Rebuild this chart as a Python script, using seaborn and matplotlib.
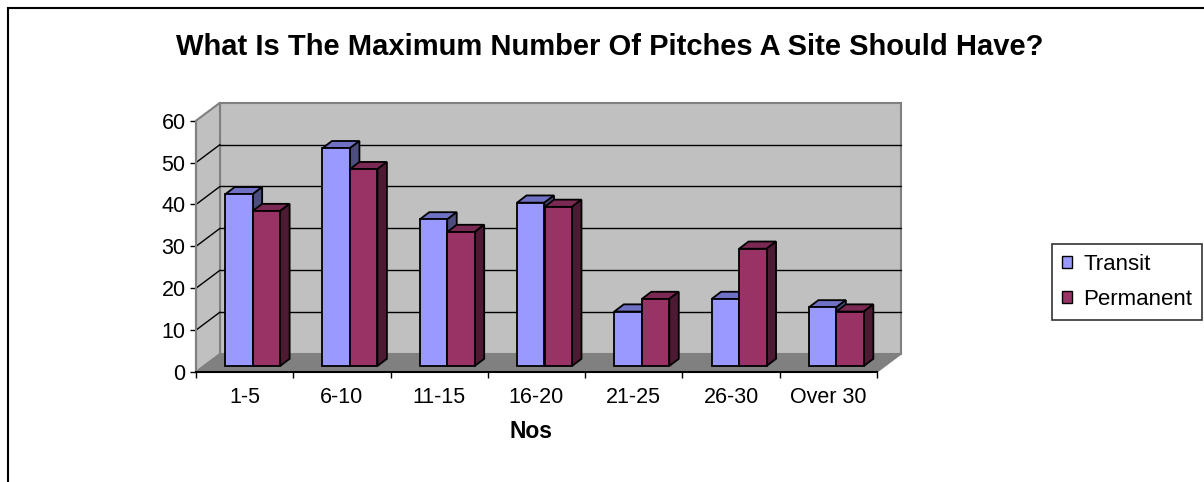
import numpy as np
import pandas as pd
import matplotlib
matplotlib.use("Agg")
import matplotlib.pyplot as plt
from matplotlib.patches import Polygon, Rectangle, Patch
import seaborn as sns

# Survey responses by site size band
categories = ["1-5", "6-10", "11-15", "16-20", "21-25", "26-30", "Over 30"]
transit = [41, 52, 35, 39, 13, 16, 14]
permanent = [37, 47, 32, 38, 16, 28, 13]
series_names = ["Transit", "Permanent"]
y_ticks = [0, 10, 20, 30, 40, 50, 60]

title = "What Is The Maximum Number Of Pitches A Site Should Have?"
x_label = "Nos"

df = pd.DataFrame({
    "Size": categories * 2,
    "Count": transit + permanent,
    "Type": [series_names[0]] * len(categories) + [series_names[1]] * len(categories),
})

sns.set_theme(style="white")
plt.rcParams["font.family"] = ["Liberation Sans", "DejaVu Sans"]
plt.rcParams.update({"text.color": "black", "xtick.color": "black",
                     "ytick.color": "black", "axes.labelcolor": "black"})

W, H = 1204, 482
fig = plt.figure(figsize=(W / 100, H / 100), dpi=100)
fig.patch.set_facecolor("white")

# Plot plane (front of the 3D box), in pixels
left_px, right_px, base_px, top_px = 196, 877, 372, 120.7
ax = fig.add_axes([left_px / W, (H - base_px) / H,
                   (right_px - left_px) / W, (base_px - top_px) / H])
ncat = len(categories)
ax.set_xlim(-0.5, ncat - 0.5)
ax.set_ylim(0, 60)
ax.set_facecolor("none")

sx = (right_px - left_px) / ncat      # px per category
sy = (base_px - top_px) / 60          # px per unit
DX, DY = 24 / sx, 18 / sy             # full depth of the box, data units
BX, BY = DX / 3, DY / 3               # bar plane offset
BDX, BDY = 9.5 / sx, 7.2 / sy         # bar depth

x0, x1 = -0.5, ncat - 0.5
wall = "#C0C0C0"
edge_gray = "#808080"

# Back wall, side wall and floor
ax.add_patch(Polygon([(x0 + DX, DY), (x1 + DX, DY), (x1 + DX, 60 + DY), (x0 + DX, 60 + DY)],
                     closed=True, fc=wall, ec=edge_gray, lw=1.5, zorder=0.5, clip_on=False))
ax.add_patch(Polygon([(x0, 0), (x0, 60), (x0 + DX, 60 + DY), (x0 + DX, DY)],
                     closed=True, fc=wall, ec=edge_gray, lw=1.5, zorder=0.6, clip_on=False))
ax.add_patch(Polygon([(x0, 0), (x1, 0), (x1 + DX, DY), (x0 + DX, DY)],
                     closed=True, fc="#808080", ec=edge_gray, lw=1, zorder=0.7, clip_on=False))

# Gridlines on side and back walls
for v in y_ticks[1:-1]:
    ax.plot([x0, x0 + DX], [v, v + DY], color="black", lw=1, zorder=0.8, clip_on=False)
    ax.plot([x0 + DX, x1 + DX], [v + DY, v + DY], color="black", lw=1, zorder=0.8, clip_on=False)

# Front faces of the bars
sns.barplot(data=df, x="Size", y="Count", hue="Type", order=categories,
            hue_order=series_names, palette=["#9999FF", "#993366"], saturation=1,
            width=0.565, edgecolor="black", linewidth=1.3, ax=ax,
            legend=False, err_kws={"linewidth": 0})

top_cols = {"#9999FF": "#7070C4", "#993366": "#7A2952"}
side_cols = {"#9999FF": "#4D4D80", "#993366": "#4D1A33"}
bars = [p for p in ax.patches if isinstance(p, Rectangle) and p.get_height() > 0]
bars.sort(key=lambda p: p.get_x())
for i, p in enumerate(bars):
    fc = matplotlib.colors.to_hex(p.get_facecolor()).upper()
    p.set_x(p.get_x() + BX)
    p.set_y(BY)
    bx0, bw, bh = p.get_x(), p.get_width(), p.get_height()
    ytop = BY + bh
    z = 2 + 0.1 * i
    p.set_zorder(z + 0.05)
    p.set_clip_on(False)
    ax.add_patch(Polygon([(bx0, ytop), (bx0 + bw, ytop), (bx0 + bw + BDX, ytop + BDY),
                          (bx0 + BDX, ytop + BDY)], closed=True,
                         fc=top_cols.get(fc, fc), ec="black", lw=1.3, zorder=z, clip_on=False))
    ax.add_patch(Polygon([(bx0 + bw, BY), (bx0 + bw, ytop), (bx0 + bw + BDX, ytop + BDY),
                          (bx0 + bw + BDX, BY + BDY)], closed=True,
                         fc=side_cols.get(fc, fc), ec="black", lw=1.3, zorder=z, clip_on=False))

# Axes: front value axis and category axis
for s in ["top", "right"]:
    ax.spines[s].set_visible(False)
ax.spines["left"].set_color(edge_gray)
ax.spines["left"].set_linewidth(1.5)
ax.spines["bottom"].set_color("black")
ax.spines["bottom"].set_linewidth(1.5)
ax.spines["left"].set_zorder(5)
ax.spines["bottom"].set_zorder(5)

ax.set_yticks(y_ticks)
ax.set_yticklabels([str(v) for v in y_ticks])
ax.tick_params(axis="y", which="major", direction="out", length=4.5, width=1,
               color="black", pad=3, labelsize=15.5, left=True)

ax.set_xticks(np.arange(-0.5, ncat, 1.0))
ax.set_xticklabels([])
ax.set_xticks(np.arange(ncat), minor=True)
ax.set_xticklabels(categories, minor=True)
ax.tick_params(axis="x", which="major", direction="out", length=4.5, width=1,
               color="black", bottom=True)
ax.tick_params(axis="x", which="minor", length=0, pad=11, labelsize=15.5)
ax.set_xlabel("")
ax.set_ylabel("")
ax.grid(False)

fig.text(531 / W, 1 - 432 / H, x_label, ha="center", va="center",
         fontsize=16.5, fontweight="bold")
fig.text(610 / W, 1 - 47 / H, title, ha="center", va="center",
         fontsize=21, fontweight="bold")

# Legend
handles = [Patch(fc="#9999FF", ec="black", lw=1), Patch(fc="#993366", ec="black", lw=1)]
leg = fig.legend(handles, series_names, loc="upper left",
                 bbox_to_anchor=(1052 / W, 1 - 244 / H), fontsize=16,
                 handlelength=0.45, handleheight=0.45, handletextpad=0.5,
                 borderpad=0.45, labelspacing=0.62, borderaxespad=0,
                 frameon=True, fancybox=False)
leg.get_frame().set_edgecolor("black")
leg.get_frame().set_linewidth(1.2)

# Outer chart border
fig.add_artist(Rectangle((8 / W, -0.1), 1.2, 1 - 8 / H + 0.1, transform=fig.transFigure,
                         fill=False, ec="black", lw=1.5))

fig.savefig("out.png", dpi=100)
